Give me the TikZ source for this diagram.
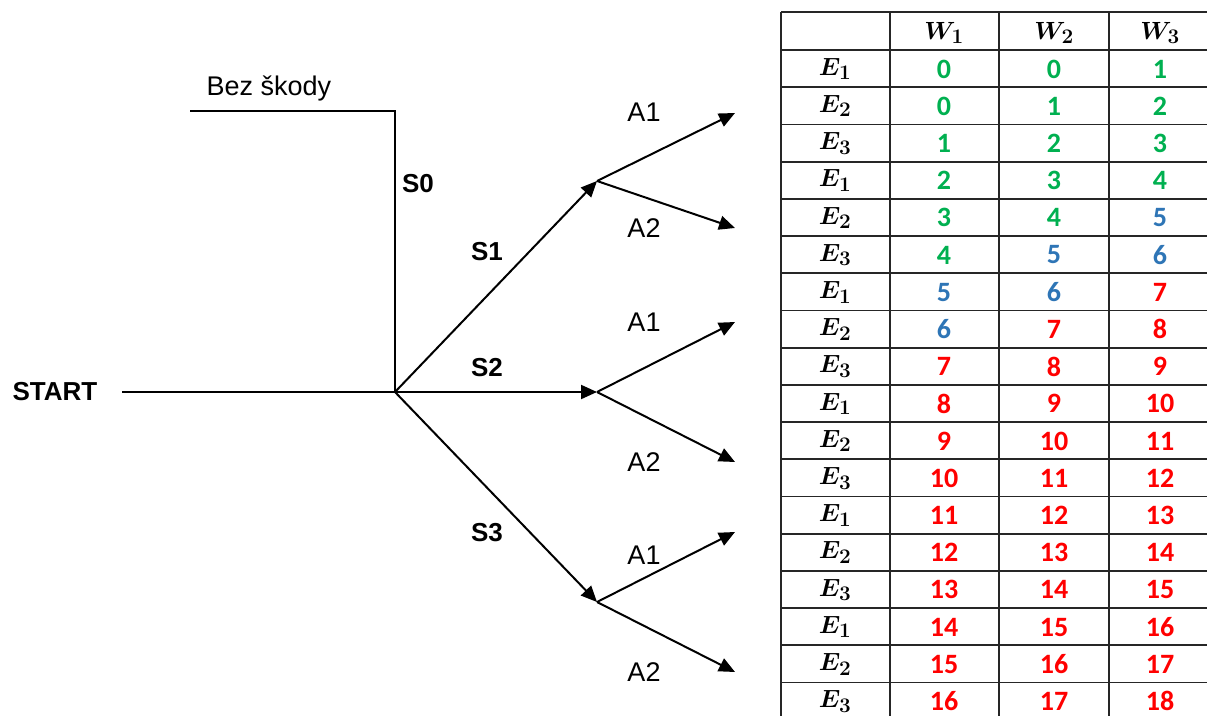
\documentclass[tikz,border=0pt]{standalone}
\usepackage{fontspec}
\setmainfont{Liberation Sans}
\newfontfamily\calibri{Carlito}
\usetikzlibrary{arrows.meta,positioning}
\definecolor{okgreen}{RGB}{0,176,80}
\definecolor{midblue}{RGB}{46,117,182}
\definecolor{hotred}{RGB}{255,0,0}
\tikzset{
    branch/.style={line width=2pt,-{Triangle[length=16pt,width=14pt]}},
    plain/.style={line width=2pt},
    lbl/.style={font=\fontsize{27}{32}\selectfont, inner sep=0pt},
    blbl/.style={inner sep=0pt, font=\fontsize{26}{30}\selectfont\bfseries},
    tabline/.style={line width=1.8pt, draw=black!85},
    num/.style={inner sep=0pt, font=\fontsize{28}{32}\selectfont\calibri\bfseries},
    ev/.style={inner sep=0pt, font=\fontsize{32}{36}\selectfont\boldmath}
}

\begin{document}
\begin{tikzpicture}[x=1pt,y=-1pt]
    \useasboundingbox (0,0) rectangle (1207,715);
    \clip (0,0) rectangle (1207,715);

    % tree
    \node[blbl] (start) at (55,392) {START};
    \coordinate (in) at (122,392);
    \coordinate (root) at (395,392);
    \coordinate (top) at (395,111);
    \coordinate (safe) at (190,111);
    \node[lbl] (bez) at (269,88) {Bez škody};
    \node[blbl] (s0) at (418,184) {S0};

    \draw[plain] (in) -- (root);
    \draw[plain] (safe) -- (top) -- (root);

    \foreach \n/\y/\ly in {1/181/252, 2/392/368, 3/602/533}{
        \coordinate (s\n) at (597,\y);
        \draw[branch] (root) -- (s\n);
        \node[blbl] (ls\n) at (487,\ly) {S\n};
    }

    \foreach \n/\ya/\yb/\la/\lb in {1/113/228/112/228, 2/322/462/322/462, 3/532/672/555/672}{
        \coordinate (a\n) at (735,\ya);
        \coordinate (b\n) at (735,\yb);
        \draw[branch] (s\n) -- (a\n);
        \draw[branch] (s\n) -- (b\n);
        \node[lbl] (la\n) at (644,\la) {A1};
        \node[lbl] (lb\n) at (644,\lb) {A2};
    }

    % table
    \foreach \x in {781,890,999,1109}
        \draw[tabline] (\x,12) -- (\x,720);
    \draw[tabline] (781,12) -- (1210,12);
    \foreach \k in {0,...,18}
        \draw[tabline] (781,50+37.2*\k) -- (1210,50+37.2*\k);

    \foreach \c/\cx in {1/944,2/1054,3/1160}
        \node[ev] (w\c) at (\cx,33) {$W_{\c}$};

    \foreach \r in {0,...,17}{
        \pgfmathtruncatemacro{\e}{mod(\r,3)+1}
        \pgfmathsetmacro{\yy}{69+37.2*\r}
        \node[ev] (e\r) at (835,\yy) {$E_{\e}$};
        \foreach \c/\cx in {1/944,2/1054,3/1160}{
            \pgfmathtruncatemacro{\v}{max(\r-2+\c,0)}
            \ifnum\v<5 \def\cc{okgreen}\else\ifnum\v<7 \def\cc{midblue}\else\def\cc{hotred}\fi\fi
            \node[num, text=\cc] (v\r-\c) at (\cx,\yy) {\v};
        }
    }
\end{tikzpicture}
\end{document}
